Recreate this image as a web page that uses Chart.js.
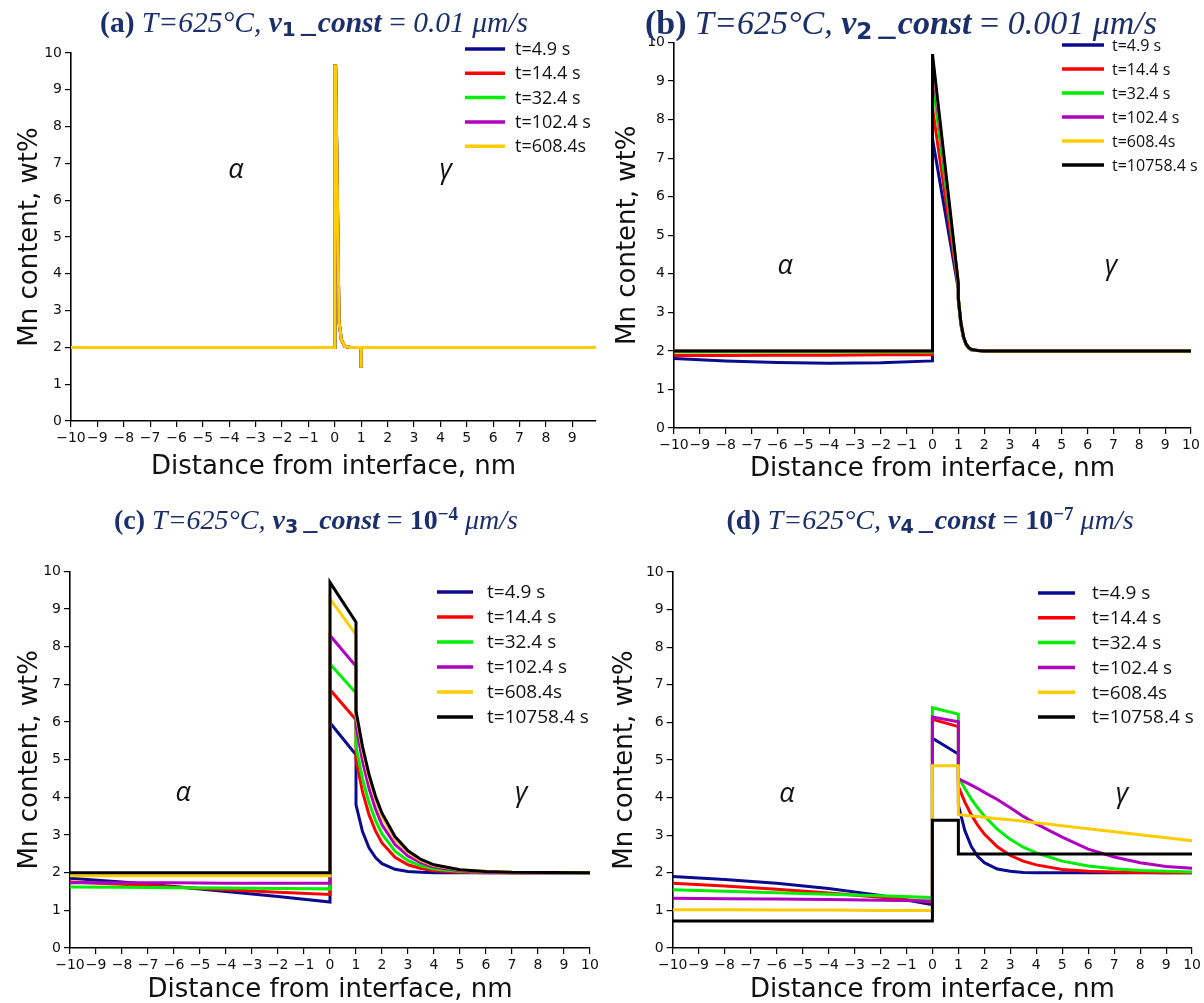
<!DOCTYPE html>
<html><head><meta charset="utf-8">
<script src="https://cdn.jsdelivr.net/npm/chart.js@4.4.1/dist/chart.umd.min.js"></script>
<style>
body{margin:0;background:#fff;width:1204px;height:1003px;position:relative;overflow:hidden;}
canvas{position:absolute;}
.title{position:absolute;font-family:"Liberation Serif","Times New Roman",serif;font-size:28px;line-height:32px;color:#1b2f6b;white-space:nowrap;transform:translateX(-50%);}
.title sub{font-size:0.68em;font-family:"DejaVu Sans",sans-serif;font-weight:bold;vertical-align:-0.22em;line-height:0;}
.title sup{font-size:0.68em;font-weight:bold;vertical-align:0.45em;line-height:0;}
</style></head><body>
<canvas id="cA" width="602" height="501" style="left:0;top:0"></canvas>
<canvas id="cB" width="602" height="501" style="left:602px;top:0"></canvas>
<canvas id="cC" width="602" height="502" style="left:0;top:501px"></canvas>
<canvas id="cD" width="602" height="502" style="left:602px;top:501px"></canvas>
<div class="title" style="left:314px;top:6px;font-size:29.5px"><b>(a)</b> <i>T=625°C,</i> <b><i>v</i><sub>1</sub> <i>_const</i></b> = <i>0.01 μm/s</i></div>
<div class="title" style="left:901px;top:7px;font-size:34px"><b>(b)</b> <i>T=625°C,</i> <b><i>v</i><sub>2</sub> <i>_const</i></b> = <i>0.001 μm/s</i></div>
<div class="title" style="left:316px;top:504px"><b>(c)</b> <i>T=625°C,</i> <b><i>v</i><sub>3</sub> <i>_const</i></b> = <b>10<sup>−4</sup></b> <i>μm/s</i></div>
<div class="title" style="left:930px;top:504px"><b>(d)</b> <i>T=625°C,</i> <b><i>v</i><sub>4</sub> <i>_const</i></b> = <b>10<sup>−7</sup></b> <i>μm/s</i></div>
<script>
// ---- labels, colours, ticks ----
const LABELS = ['t=4.9 s','t=14.4 s','t=32.4 s','t=102.4 s','t=608.4s','t=10758.4 s'];
const COLORS = ['#0b0b8f','#ff0000','#00ee00','#b000c0','#ffcc00','#000000'];
const yTicks = [0,1,2,3,4,5,6,7,8,9,10];
const xTicksA = [-10,-9,-8,-7,-6,-5,-4,-3,-2,-1,0,1,2,3,4,5,6,7,8,9];
const xTicksFull = [-10,-9,-8,-7,-6,-5,-4,-3,-2,-1,0,1,2,3,4,5,6,7,8,9,10];

// ---- panel (a) ----
const aX = [-10, 0, 0, 0.03, 0.16, 0.25, 0.38, 0.6, 1, 1, 1, 9.9];
const aY = [2, 2, 9.65, 9.65, 2.7, 2.2, 2.03, 2.0, 2.0, 1.45, 2.0, 2.0];

// ---- panel (b) ----
const bX = [-10,-8,-6,-4,-2,0, 0,1, 1,1.1,1.2,1.3,1.4,1.5,1.75,2,10];
const bBlue   = [1.8,1.74,1.7,1.68,1.69,1.74, 7.5,3.6, 3.3,2.68,2.34,2.16,2.07,2.03,2.01,2.0,2.0];
const bRed    = [1.88,1.88,1.89,1.89,1.9,1.9, 8.3,3.65, 3.32,2.69,2.35,2.17,2.08,2.03,2.01,2.0,2.0];
const bGreen  = [1.97,1.97,1.97,1.97,1.97,1.97, 9.0,3.7, 3.34,2.7,2.36,2.17,2.08,2.03,2.01,2.0,2.0];
const bPurple = [2,2,2,2,2,2, 9.4,3.72, 3.35,2.71,2.36,2.18,2.08,2.04,2.01,2.0,2.0];
const bYellow = [2,2,2,2,2,2, 9.6,3.74, 3.36,2.72,2.37,2.18,2.09,2.04,2.01,2.0,2.0];
const bBlack  = [2,2,2,2,2,2, 9.7,3.75, 3.37,2.73,2.37,2.18,2.09,2.04,2.01,2.0,2.0];

// ---- panel (c) ----
const cX = [-10,-8,-6,-4,-2,0, 0,1, 1,1.25,1.5,1.75,2,2.5,3,3.5,4,5,6,7,10];
const cBlue   = [1.85,1.75,1.63,1.5,1.37,1.22, 5.98,5.13, 3.8,3.09,2.66,2.4,2.24,2.09,2.03,2.01,2.0,2.0,2.0,2.0,2.0];
const cRed    = [1.75,1.69,1.62,1.55,1.48,1.42, 6.86,6.06, 5.0,4.15,3.54,3.11,2.79,2.41,2.21,2.11,2.05,2.01,2.0,2.0,2.0];
const cGreen  = [1.62,1.61,1.6,1.59,1.58,1.57, 7.54,6.77, 5.35,4.49,3.86,3.39,3.03,2.57,2.32,2.18,2.1,2.03,2.01,2.0,2.0];
const cPurple = [1.73,1.73,1.73,1.72,1.72,1.72, 8.3,7.48, 5.9,4.96,4.24,3.69,3.27,2.75,2.44,2.26,2.15,2.05,2.01,2.0,2.0];
const cYellow = [1.92,1.92,1.92,1.92,1.92,1.92, 9.27,8.32, 6.2,5.26,4.52,3.95,3.49,2.89,2.54,2.32,2.19,2.07,2.03,2.01,2.0];
const cBlack  = [2,2,2,2,2,2, 9.71,8.65, 6.3,5.35,4.61,4.03,3.58,2.96,2.58,2.35,2.21,2.08,2.03,2.01,2.0];

// ---- panel (d) ----
const dX = [-10,-8,-6,-4,-2,0, 0,1, 1,1.25,1.5,1.75,2,2.5,3,3.5,4,5,6,7,8,9,10];
const dBlue   = [1.9,1.82,1.72,1.58,1.4,1.15, 5.58,5.16, 3.8,3.12,2.7,2.43,2.27,2.1,2.04,2.01,2.0,2.0,2.0,2.0,2.0,2.0,2.0];
const dRed    = [1.72,1.65,1.56,1.46,1.35,1.22, 6.08,5.89, 4.3,3.88,3.54,3.26,3.03,2.69,2.46,2.31,2.21,2.09,2.04,2.02,2.01,2.0,2.0];
const dGreen  = [1.55,1.51,1.47,1.43,1.39,1.34, 6.39,6.22, 4.55,4.24,3.96,3.72,3.51,3.16,2.89,2.68,2.53,2.31,2.18,2.11,2.06,2.04,2.02];
const dPurple = [1.32,1.31,1.3,1.29,1.27,1.25, 6.14,6.02, 4.5,4.42,4.33,4.24,4.14,3.95,3.73,3.5,3.3,2.95,2.63,2.42,2.27,2.17,2.12];
const dYellow = [1.02,1.02,1.01,1.01,1.0,1.0, 4.85,4.85, 3.55,3.53,3.51,3.5,3.48,3.44,3.41,3.37,3.33,3.25,3.17,3.09,3.01,2.93,2.85];
const dBlack  = [0.72,0.72,0.72,0.72,0.72,0.72, 3.4,3.4, 2.5,2.5,2.5,2.5,2.5,2.5,2.5,2.5,2.5,2.5,2.5,2.5,2.5,2.5,2.5];

function pts(xs, ys){ return xs.map((x,i)=>({x:x, y:ys[i]})); }
function sets(xs, list){
  return list.map((ys,i)=>({label:LABELS[i], data:pts(xs,ys), borderColor:COLORS[i], backgroundColor:COLORS[i],
    borderWidth:3, pointRadius:0, tension:0, fill:false, order:-i}));
}

const decor = {
  id:'decor',
  afterDatasetsDraw(chart, args, o){
    const ctx = chart.ctx; ctx.save();
    ctx.font = o.fs + 'px "Open Sans"'; ctx.textBaseline='middle'; ctx.textAlign='left';
    chart.data.datasets.forEach((d,i)=>{
      const y = o.ly + i*o.dy;
      ctx.strokeStyle = d.borderColor; ctx.lineWidth = 3.5;
      ctx.beginPath(); ctx.moveTo(o.lx,y); ctx.lineTo(o.lx+o.len,y); ctx.stroke();
      ctx.fillStyle='#111'; ctx.fillText(d.label, o.tx, y+1);
    });
    const xs = chart.scales.x, ys = chart.scales.y;
    ctx.font = 'italic 27px "Open Sans"'; ctx.textAlign='center'; ctx.fillStyle='#111';
    ctx.fillText('α', xs.getPixelForValue(o.alpha[0]), ys.getPixelForValue(o.alpha[1]));
    ctx.fillText('γ', xs.getPixelForValue(o.gamma[0]), ys.getPixelForValue(o.gamma[1]));
    ctx.restore();
  }
};

function make(id, datasets, g){
  const tickFont = {family:'"DejaVu Sans"', size:14};
  const titleFont = {family:'"DejaVu Sans"', size:26, lineHeight:1};
  return new Chart(document.getElementById(id), {
    type:'line',
    data:{datasets:datasets},
    plugins:[decor],
    options:{
      responsive:false, animation:false, devicePixelRatio:1,
      layout:{padding:{left:0, top:g.top, right:g.right, bottom:0}},
      plugins:{legend:{display:false}, tooltip:{enabled:false}, decor:g.decor},
      scales:{
        x:{type:'linear', min:-10, max:g.xmax,
          afterBuildTicks:s=>{s.ticks = g.xt.map(v=>({value:v}));},
          afterFit:s=>{s.height = g.xh;},
          ticks:{font:tickFont, color:'#111', padding:3, maxRotation:0, autoSkip:false,
            callback:v=>String(v).replace('-','\u2212')},
          grid:{display:true, drawOnChartArea:false, drawTicks:true, tickLength:6, color:'#000', lineWidth:1.2},
          border:{display:true, color:'#000', width:1.6},
          title:{display:true, text:'Distance from interface, nm', font:titleFont, color:'#111', padding:{top:0,bottom:g.xpb}}
        },
        y:{type:'linear', min:0, max:10,
          afterBuildTicks:s=>{s.ticks = yTicks.map(v=>({value:v}));},
          afterFit:s=>{s.width = g.yw;},
          ticks:{font:tickFont, color:'#111', padding:3},
          grid:{display:true, drawOnChartArea:false, drawTicks:true, tickLength:6, color:'#000', lineWidth:1.2},
          border:{display:true, color:'#000', width:1.6},
          title:{display:true, text:'Mn content, wt%', font:titleFont, color:'#111', padding:{top:g.ypt,bottom:0}}
        }
      }
    }
  });
}

make('cA', sets(aX,[aY,aY,aY,aY,aY]), {top:53, right:6, xmax:9.9, xt:xTicksA, xh:80, yw:71, xpb:21, ypt:17,
  decor:{fs:18, lx:465, len:40, tx:515, ly:49, dy:24.3, alpha:[-3.75,6.8], gamma:[4.2,6.8]}});
make('cB', sets(bX,[bBlue,bRed,bGreen,bPurple,bYellow,bBlack]), {top:42.5, right:13, xmax:10, xt:xTicksFull, xh:73, yw:72, xpb:19, ypt:13,
  decor:{fs:16, lx:460, len:42, tx:510, ly:45, dy:24, alpha:[-5.7,4.2], gamma:[6.9,4.2]}});
make('cC', sets(cX,[cBlue,cRed,cGreen,cPurple,cYellow,cBlack]), {top:70.4, right:12, xmax:10, xt:xTicksFull, xh:55, yw:70, xpb:0, ypt:17,
  decor:{fs:19, lx:437, len:36, tx:487, ly:91, dy:25, alpha:[-5.65,4.1], gamma:[7.35,4.1]}});
make('cD', sets(dX,[dBlue,dRed,dGreen,dPurple,dYellow,dBlack]), {top:71, right:11.3, xmax:10, xt:xTicksFull, xh:55, yw:70.7, xpb:0, ypt:10,
  decor:{fs:19, lx:436, len:37, tx:490, ly:92, dy:24.8, alpha:[-5.6,4.1], gamma:[7.3,4.1]}});
</script>
</body></html>
